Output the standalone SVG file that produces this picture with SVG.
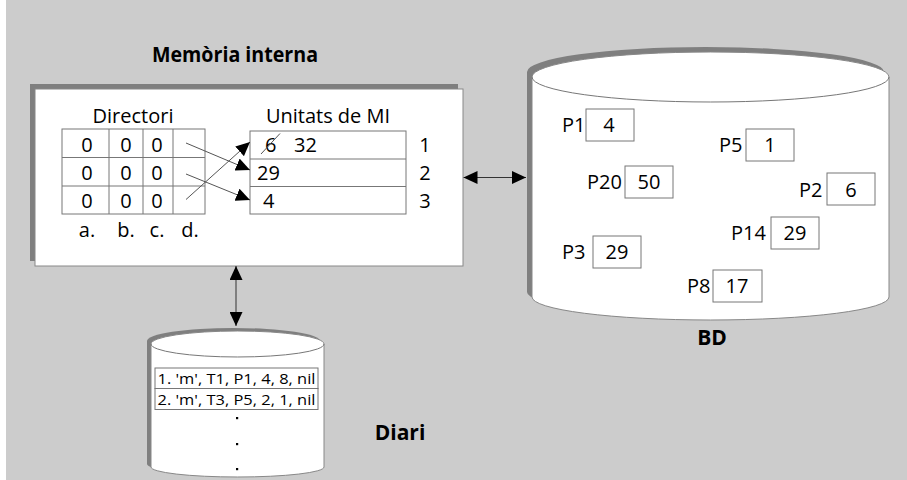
<svg xmlns="http://www.w3.org/2000/svg" width="907" height="480" viewBox="0 0 907 480">
  <style>
    .t { font-family: "Open Sans", "Noto Sans", "DejaVu Sans", sans-serif; font-size: 20px; fill: #000; }
    .b { font-family: "Open Sans", "Noto Sans", "DejaVu Sans", sans-serif; font-size: 21px; font-weight: bold; fill: #000; }
    .s { font-family: "Open Sans", "Noto Sans", "DejaVu Sans", sans-serif; font-size: 15px; fill: #000; }
    .mid { text-anchor: middle; }
    .grid { fill: none; stroke: #777; stroke-width: 1; }
    .cell { fill: #fff; stroke: #777; stroke-width: 1; }
    .shadow { fill: #7f7f7f; }
    .body { fill: #fff; stroke: #888; stroke-width: 1; }
    .rim { fill: none; stroke: #777; stroke-width: 1; }
    .link { fill: none; stroke: #555; stroke-width: 1; }
    .conn { fill: none; stroke: #333; stroke-width: 1; }
  </style>
  <defs>
    <marker id="tri" viewBox="0 0 14 13" refX="14" refY="6.5" markerWidth="14" markerHeight="13" markerUnits="userSpaceOnUse" orient="auto-start-reverse">
      <path d="M0,0 L14,6.5 L0,13 Z" fill="#000"/>
    </marker>
  </defs>

  <!-- page background -->
  <rect x="0" y="0" width="907" height="480" fill="#fff"/>
  <rect x="6" y="0" width="901" height="480" fill="#cccccc"/>

  <!-- internal memory -->
  <g id="memoria-interna">
    <text class="b mid" x="235" y="62" textLength="166" lengthAdjust="spacingAndGlyphs">Memòria interna</text>
    <rect class="shadow" x="30" y="84" width="428" height="177"/>
    <rect class="body" x="35" y="89" width="428" height="177"/>

    <!-- directory table -->
    <text class="t mid" x="133" y="123">Directori</text>
    <rect class="grid" x="62" y="129" width="143" height="85"/>
    <path class="grid" d="M62,157.5 H205 M62,186 H205 M109,129 V214 M143,129 V214 M173,129 V214"/>
    <g class="t mid">
      <text x="87" y="152">0</text><text x="126" y="152">0</text><text x="157" y="152">0</text>
      <text x="87" y="180">0</text><text x="126" y="180">0</text><text x="157" y="180">0</text>
      <text x="87" y="208">0</text><text x="126" y="208">0</text><text x="157" y="208">0</text>
      <text x="87" y="237">a.</text><text x="126" y="237">b.</text><text x="157" y="237">c.</text><text x="190" y="237">d.</text>
    </g>

    <!-- memory units -->
    <text class="t mid" x="328" y="123">Unitats de MI</text>
    <rect class="grid" x="250" y="131" width="156" height="83"/>
    <path class="grid" d="M250,159 H406 M250,186.5 H406"/>
    <text class="t" x="265" y="152">6</text>
    <text class="t" x="294" y="152">32</text>
    <path class="link" d="M261,154 L280,133.5"/>
    <text class="t" x="257" y="180">29</text>
    <text class="t" x="263" y="208">4</text>
    <g class="t mid">
      <text x="425" y="152">1</text>
      <text x="425" y="180">2</text>
      <text x="425" y="208">3</text>
    </g>

    <!-- directory pointers -->
    <path class="link" d="M186,143 L250,170" marker-end="url(#tri)"/>
    <path class="link" d="M186,174 L250,200" marker-end="url(#tri)"/>
    <path class="link" d="M186,199.5 L250,142" marker-end="url(#tri)"/>
  </g>

  <!-- database -->
  <g id="bd">
    <path class="shadow" d="M527,72 A178.5,25 0 0 1 884,72 L884,292 A178.5,23 0 0 1 527,292 Z"/>
    <path class="body" d="M532,77 A178.5,25 0 0 1 889,77 L889,297 A178.5,23 0 0 1 532,297 Z"/>
    <path class="rim" d="M532,77 A178.5,25 0 0 0 889,77"/>

    <g class="t">
      <text x="562" y="132">P1</text>
      <text x="719" y="152">P5</text>
      <text x="587" y="189">P20</text>
      <text x="799" y="197">P2</text>
      <text x="731" y="240">P14</text>
      <text x="562" y="259">P3</text>
      <text x="687" y="293">P8</text>
    </g>
    <rect class="cell" x="586" y="109" width="48" height="32"/>
    <rect class="cell" x="746" y="129" width="48" height="32"/>
    <rect class="cell" x="625" y="166" width="48" height="32"/>
    <rect class="cell" x="827" y="173" width="48" height="32"/>
    <rect class="cell" x="771" y="217" width="48" height="32"/>
    <rect class="cell" x="593" y="236" width="48" height="32"/>
    <rect class="cell" x="713" y="270" width="49" height="32"/>
    <g class="t mid">
      <text x="609" y="132">4</text>
      <text x="770" y="152">1</text>
      <text x="649" y="189">50</text>
      <text x="851" y="197">6</text>
      <text x="795" y="240">29</text>
      <text x="617" y="259">29</text>
      <text x="737" y="293">17</text>
    </g>
    <text class="b mid" x="712" y="345">BD</text>
  </g>

  <!-- journal -->
  <g id="diari">
    <path class="shadow" d="M147,341 A86.5,13 0 0 1 320,341 L320,464 A86.5,10 0 0 1 147,464 Z"/>
    <path class="body" d="M151,344 A86.5,13 0 0 1 324,344 L324,467 A86.5,10 0 0 1 151,467 Z"/>
    <path class="rim" d="M151,344 A86.5,13 0 0 0 324,344"/>
    <rect class="cell" x="155" y="368" width="163" height="20.5"/>
    <rect class="cell" x="155" y="388.5" width="163" height="21"/>
    <text class="s" x="157.5" y="384" textLength="158" lengthAdjust="spacingAndGlyphs">1. 'm', T1, P1, 4, 8, nil</text>
    <text class="s" x="157.5" y="405" textLength="158" lengthAdjust="spacingAndGlyphs">2. 'm', T3, P5, 2, 1, nil</text>
    <g fill="#000">
      <rect x="236" y="417" width="2.2" height="2.2"/>
      <rect x="236" y="443" width="2.2" height="2.2"/>
      <rect x="236" y="468" width="2.2" height="2.2"/>
    </g>
    <text class="b mid" x="400" y="440">Diari</text>
  </g>

  <!-- connectors -->
  <g id="connectors">
    <path class="conn" d="M463.5,177.5 L526,177.5" marker-start="url(#tri)" marker-end="url(#tri)"/>
    <path class="conn" d="M236,266 L236,326" marker-start="url(#tri)" marker-end="url(#tri)"/>
  </g>
</svg>
